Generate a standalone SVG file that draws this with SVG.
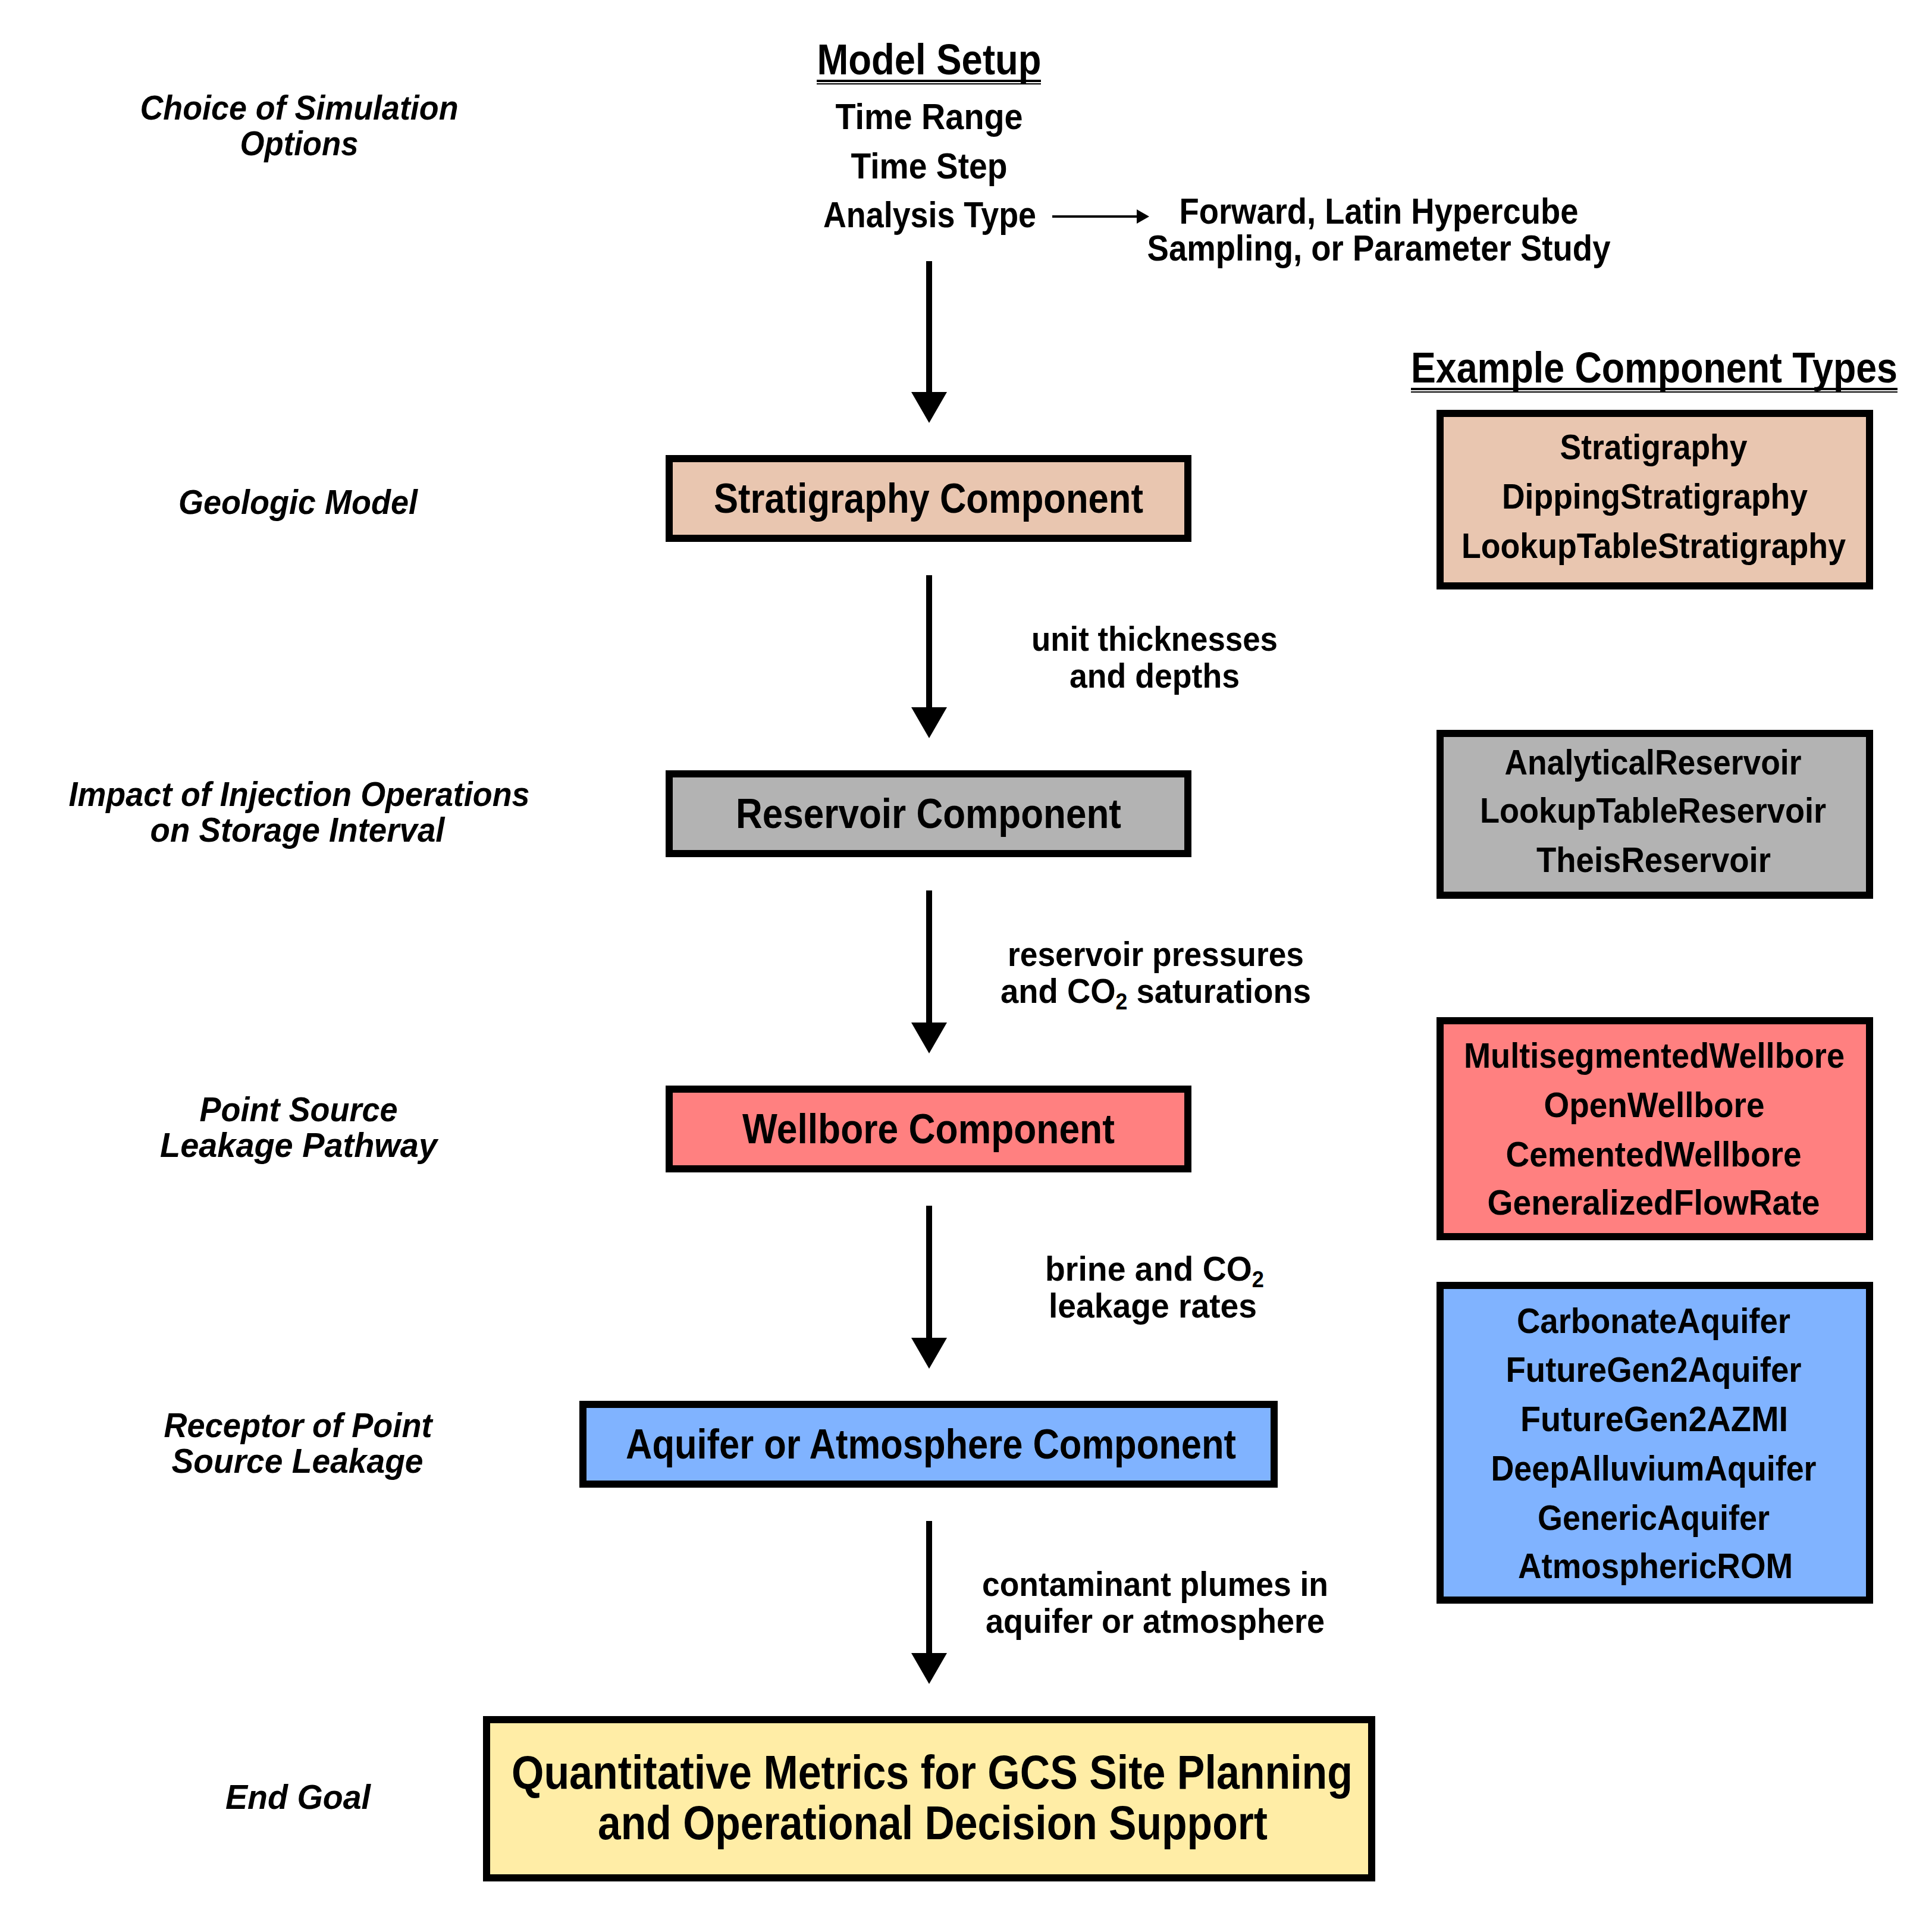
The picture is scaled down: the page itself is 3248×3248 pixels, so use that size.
<svg xmlns="http://www.w3.org/2000/svg" width="3248" height="3248" viewBox="0 0 3248 3248">
<style>
text{font-family:"Liberation Sans",Arial,Helvetica,sans-serif;font-weight:bold;text-anchor:middle;fill:#000}
.h{font-size:72px}
.s{font-size:62px}
.r{font-size:60px}
.b{font-size:70px}
.q{font-size:80px}
.l{font-size:58px}
.i{font-size:58px;font-style:italic}
.box{stroke:#000;stroke-width:12}
.shaft{stroke:#000;stroke-width:10;fill:none}
.ul{fill:#000}
</style>
<defs>
<polygon id="head" points="-30,0 30,0 0,52" fill="#000"/>
</defs>
<rect width="3248" height="3248" fill="#fff"/>

<g id="model-setup">
<text class="h" x="1562" y="125" textLength="377" lengthAdjust="spacingAndGlyphs">Model Setup</text>
<rect class="ul" x="1373" y="134" width="377" height="4"/>
<rect class="ul" x="1373" y="140" width="377" height="2"/>
<text class="s" x="1562" y="217" textLength="315" lengthAdjust="spacingAndGlyphs">Time Range</text>
<text class="s" x="1562" y="300" textLength="263" lengthAdjust="spacingAndGlyphs">Time Step</text>
<text class="s" x="1563" y="382" textLength="358" lengthAdjust="spacingAndGlyphs">Analysis Type</text>
</g>
<g id="analysis-options">
<text class="s" x="2318" y="376" textLength="671" lengthAdjust="spacingAndGlyphs">Forward, Latin Hypercube</text>
<text class="s" x="2318" y="438" textLength="779" lengthAdjust="spacingAndGlyphs">Sampling, or Parameter Study</text>
</g>

<g id="left-labels">
<text class="i" x="503" y="201" textLength="535" lengthAdjust="spacingAndGlyphs">Choice of Simulation</text>
<text class="i" x="503" y="261" textLength="199" lengthAdjust="spacingAndGlyphs">Options</text>
<text class="i" x="501" y="864" textLength="402" lengthAdjust="spacingAndGlyphs">Geologic Model</text>
<text class="i" x="503" y="1355" textLength="775" lengthAdjust="spacingAndGlyphs">Impact of Injection Operations</text>
<text class="i" x="500" y="1415" textLength="495" lengthAdjust="spacingAndGlyphs">on Storage Interval</text>
<text class="i" x="502" y="1885" textLength="333" lengthAdjust="spacingAndGlyphs">Point Source</text>
<text class="i" x="502" y="1945" textLength="466" lengthAdjust="spacingAndGlyphs">Leakage Pathway</text>
<text class="i" x="501" y="2416" textLength="451" lengthAdjust="spacingAndGlyphs">Receptor of Point</text>
<text class="i" x="500" y="2476" textLength="423" lengthAdjust="spacingAndGlyphs">Source Leakage</text>
<text class="i" x="501" y="3041" textLength="244" lengthAdjust="spacingAndGlyphs">End Goal</text>
</g>

<g id="stratigraphy-component">
<rect class="box" x="1125" y="771" width="872" height="134" fill="#E9C6B0"/>
<text class="b" x="1561" y="862" textLength="722" lengthAdjust="spacingAndGlyphs">Stratigraphy Component</text>
</g>
<g id="reservoir-component">
<rect class="box" x="1125" y="1301" width="872" height="134" fill="#B3B3B3"/>
<text class="b" x="1561" y="1392" textLength="648" lengthAdjust="spacingAndGlyphs">Reservoir Component</text>
</g>
<g id="wellbore-component">
<rect class="box" x="1125" y="1831" width="872" height="134" fill="#FF8080"/>
<text class="b" x="1561" y="1922" textLength="626" lengthAdjust="spacingAndGlyphs">Wellbore Component</text>
</g>
<g id="aquifer-component">
<rect class="box" x="980" y="2361" width="1162" height="134" fill="#80B3FF"/>
<text class="b" x="1565" y="2452" textLength="1026" lengthAdjust="spacingAndGlyphs">Aquifer or Atmosphere Component</text>
</g>
<g id="end-goal">
<rect class="box" x="818" y="2891" width="1488" height="266" fill="#FFEDA6"/>
<text class="q" x="1567" y="3007" textLength="1414" lengthAdjust="spacingAndGlyphs">Quantitative Metrics for GCS Site Planning</text>
<text class="q" x="1568" y="3092" textLength="1126" lengthAdjust="spacingAndGlyphs">and Operational Decision Support</text>
</g>

<g id="example-types">
<text class="h" x="2781" y="643" textLength="818" lengthAdjust="spacingAndGlyphs">Example Component Types</text>
<rect class="ul" x="2372" y="652" width="818" height="4"/>
<rect class="ul" x="2372" y="658" width="818" height="2"/>
</g>
<g id="stratigraphy-types">
<rect class="box" x="2421" y="695" width="722" height="290" fill="#E9C6B0"/>
<text class="r" x="2780" y="772" textLength="315" lengthAdjust="spacingAndGlyphs">Stratigraphy</text>
<text class="r" x="2782" y="855" textLength="514" lengthAdjust="spacingAndGlyphs">DippingStratigraphy</text>
<text class="r" x="2780" y="938" textLength="646" lengthAdjust="spacingAndGlyphs">LookupTableStratigraphy</text>
</g>
<g id="reservoir-types">
<rect class="box" x="2421" y="1233" width="722" height="272" fill="#B3B3B3"/>
<text class="r" x="2779" y="1302" textLength="499" lengthAdjust="spacingAndGlyphs">AnalyticalReservoir</text>
<text class="r" x="2779" y="1383" textLength="582" lengthAdjust="spacingAndGlyphs">LookupTableReservoir</text>
<text class="r" x="2780" y="1466" textLength="394" lengthAdjust="spacingAndGlyphs">TheisReservoir</text>
</g>
<g id="wellbore-types">
<rect class="box" x="2421" y="1716" width="722" height="363" fill="#FF8080"/>
<text class="r" x="2781" y="1795" textLength="640" lengthAdjust="spacingAndGlyphs">MultisegmentedWellbore</text>
<text class="r" x="2781" y="1878" textLength="371" lengthAdjust="spacingAndGlyphs">OpenWellbore</text>
<text class="r" x="2780" y="1961" textLength="497" lengthAdjust="spacingAndGlyphs">CementedWellbore</text>
<text class="r" x="2780" y="2042" textLength="559" lengthAdjust="spacingAndGlyphs">GeneralizedFlowRate</text>
</g>
<g id="aquifer-types">
<rect class="box" x="2421" y="2161" width="722" height="529" fill="#80B3FF"/>
<text class="r" x="2780" y="2241" textLength="460" lengthAdjust="spacingAndGlyphs">CarbonateAquifer</text>
<text class="r" x="2780" y="2323" textLength="497" lengthAdjust="spacingAndGlyphs">FutureGen2Aquifer</text>
<text class="r" x="2781" y="2406" textLength="450" lengthAdjust="spacingAndGlyphs">FutureGen2AZMI</text>
<text class="r" x="2780" y="2489" textLength="547" lengthAdjust="spacingAndGlyphs">DeepAlluviumAquifer</text>
<text class="r" x="2780" y="2572" textLength="390" lengthAdjust="spacingAndGlyphs">GenericAquifer</text>
<text class="r" x="2783" y="2653" textLength="462" lengthAdjust="spacingAndGlyphs">AtmosphericROM</text>
</g>

<g id="connectors">
<line x1="1769" y1="364" x2="1912" y2="364" stroke="#000" stroke-width="4"/>
<polygon points="1911,352 1932,364 1911,376" fill="#000"/>
<line class="shaft" x1="1562" y1="439" x2="1562" y2="662"/>
<use href="#head" x="1562" y="659"/>
<line class="shaft" x1="1562" y1="967" x2="1562" y2="1192"/>
<use href="#head" x="1562" y="1189"/>
<line class="shaft" x1="1562" y1="1497" x2="1562" y2="1722"/>
<use href="#head" x="1562" y="1719"/>
<line class="shaft" x1="1562" y1="2027" x2="1562" y2="2252"/>
<use href="#head" x="1562" y="2249"/>
<line class="shaft" x1="1562" y1="2557" x2="1562" y2="2782"/>
<use href="#head" x="1562" y="2779"/>
<g id="connector-labels">
<text class="l" x="1941" y="1094" textLength="414" lengthAdjust="spacingAndGlyphs">unit thicknesses</text>
<text class="l" x="1941" y="1156" textLength="286" lengthAdjust="spacingAndGlyphs">and depths</text>
<text class="l" x="1943" y="1624" textLength="498" lengthAdjust="spacingAndGlyphs">reservoir pressures</text>
<text class="l" x="1943" y="1686" textLength="522" lengthAdjust="spacingAndGlyphs">and CO<tspan font-size="38" dy="11">2</tspan><tspan dy="-11"> saturations</tspan></text>
<text class="l" x="1941" y="2153" textLength="368" lengthAdjust="spacingAndGlyphs">brine and CO<tspan font-size="38" dy="11">2</tspan></text>
<text class="l" x="1938" y="2215" textLength="350" lengthAdjust="spacingAndGlyphs">leakage rates</text>
<text class="l" x="1942" y="2683" textLength="582" lengthAdjust="spacingAndGlyphs">contaminant plumes in</text>
<text class="l" x="1942" y="2745" textLength="570" lengthAdjust="spacingAndGlyphs">aquifer or atmosphere</text>
</g>
</g>
</svg>
